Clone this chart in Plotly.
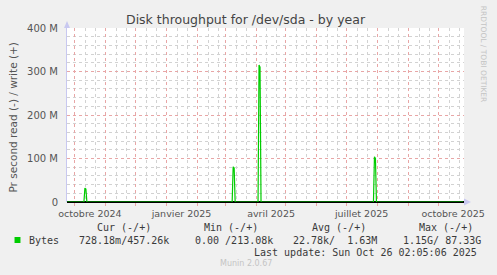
import plotly.graph_objects as go

# ---- data ----
write_dates = ["2024-09-23", "2024-10-10", "2024-10-11", "2024-10-12", "2024-10-13",
               "2025-03-08", "2025-03-09", "2025-03-10", "2025-03-11",
               "2025-04-03", "2025-04-04", "2025-04-05", "2025-04-06",
               "2025-07-28", "2025-07-29", "2025-07-30", "2025-07-31", "2025-10-26"]
write_values = [0, 0, 32e6, 30e6, 0,
                0, 81e6, 78e6, 0,
                0, 315e6, 310e6, 0,
                0, 104e6, 100e6, 0, 0]

month_ticks = ["2024-10-01", "2024-11-01", "2024-12-01", "2025-01-01", "2025-02-01",
               "2025-03-01", "2025-04-01", "2025-05-01", "2025-06-01", "2025-07-01",
               "2025-08-01", "2025-09-01", "2025-10-01"]
month_labels = ["octobre 2024", "", "", "janvier 2025", "", "", "avril 2025", "", "",
                "juillet 2025", "", "", "octobre 2025"]
minor_ticks = [f"{m[:8]}{d}" for m in ["2024-09-01"] + month_ticks for d in ("12", "22")]
y_ticks = [0, 100e6, 200e6, 300e6, 400e6]
y_labels = ["0", "100 M", "200 M", "300 M", "400 M"]

legend_headers = ["Cur (-/+)", "Min (-/+)", "Avg (-/+)", "Max (-/+)"]
legend_values = ["728.18m/457.26k", "0.00 /213.08k", "22.78k/\u00a0\u00a01.63M", "1.15G/ 87.33G"]
series_name = "Bytes"

# ---- layout helpers (pixel -> paper) ----
L, R, T, B = 67, 468, 28, 202
def px(x):
    return (x - L) / (R - L)
def py(y):
    return (B - y) / (B - T)

MAJ = "#e8a6a6"
MIN = "#d2d2d2"
AX = "#c8c8f0"
XRANGE = ["2024-09-23", "2025-10-27"]

fig = go.Figure()
fig.add_trace(go.Scatter(x=write_dates, y=write_values, mode="lines",
                         line=dict(color="#00cc00", width=1.2), name=series_name,
                         showlegend=False))

fig.update_layout(
    width=497, height=275,
    margin=dict(l=L, r=497 - R, t=T, b=275 - B),
    paper_bgcolor="#f0f0f0", plot_bgcolor="#ffffff",
    font=dict(family="DejaVu Sans", size=10, color="#555555"),
    showlegend=False,
    xaxis=dict(
        type="date", range=XRANGE,
        tickmode="array", tickvals=month_ticks, ticktext=month_labels,
        ticklabelshift=15, ticks="outside", ticklen=3, tickcolor=MAJ,
        showgrid=True, gridcolor=MAJ, griddash="dot", gridwidth=1,
        minor=dict(tickmode="array", tickvals=minor_ticks, showgrid=True,
                   gridcolor=MIN, griddash="dot", ticks=""),
        showline=False, zeroline=False,
        tickfont=dict(size=9.5, color="#555555"),
    ),
    yaxis=dict(
        range=[0, 400e6], tickmode="array", tickvals=y_ticks, ticktext=y_labels,
        showgrid=True, gridcolor=MAJ, griddash="dot",
        minor=dict(dtick=20e6, showgrid=True, gridcolor=MIN, griddash="dot", ticks=""),
        zeroline=True, zerolinecolor="#000000", zerolinewidth=2,
        showline=True, linecolor=AX, linewidth=1,
        ticks="", ticklabelstandoff=6,
        tickfont=dict(size=10, color="#555555"),
    ),
)

# axis arrows
fig.add_shape(type="path", xref="paper", yref="paper",
              path=f"M {px(64)} {py(28)} L {px(70)} {py(28)} L {px(67)} {py(21)} Z",
              fillcolor=AX, line=dict(width=0))
fig.add_shape(type="path", xref="paper", yref="paper",
              path=f"M {px(468)} {py(198.5)} L {px(468)} {py(205.5)} L {px(475)} {py(202)} Z",
              fillcolor=AX, line=dict(width=0))

ann = []
def text(x, y, s, size=10, color="#3a3a3a", anchor="center", family="DejaVu Sans Mono", angle=0):
    ann.append(dict(x=px(x), y=py(y), xref="paper", yref="paper", text=s, showarrow=False,
                    xanchor=anchor, yanchor="middle", textangle=angle,
                    font=dict(family=family, size=size, color=color)))

text(248, 19, "Disk throughput for /dev/sda - by year", size=12.5, color="#444444", family="DejaVu Sans")
text(12, 117, "Pr second read (-) / write (+)", size=10.5, color="#555555", family="DejaVu Sans", angle=-90)
text(488.5, 54, "RRDTOOL / TOBI OETIKER", size=7.5, color="#c4c4c4", family="DejaVu Sans", angle=90)

for cx, h in zip([124.6, 233, 341.7, 449.5], legend_headers):
    text(cx, 227.5, h)
text(26.5, 240, series_name, anchor="left")
for lx, v in zip([77.3, 194, 293, 404], legend_values):
    text(lx, 240, v, anchor="left")
text(483, 252, "Last update: Sun Oct 26 02:05:06 2025", anchor="right")
text(248, 263.5, "Munin 2.0.67", size=8, color="#c4c4c4", family="DejaVu Sans")
fig.update_layout(annotations=ann)

# legend colour swatch
fig.add_shape(type="rect", xref="paper", yref="paper",
              x0=px(14), x1=px(20), y0=py(243), y1=py(237),
              fillcolor="#00cc00", line=dict(width=0))

fig.write_html("out.html")
